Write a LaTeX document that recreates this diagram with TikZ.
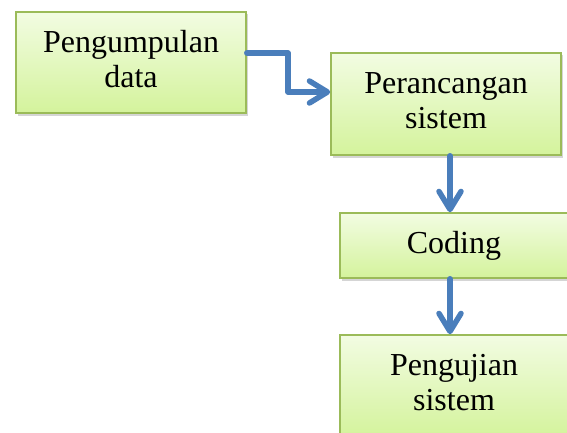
\documentclass[tikz,border=0pt]{standalone}
\usepackage{fontspec}
\setmainfont{Liberation Serif}
\usetikzlibrary{arrows.meta,shadows}
\definecolor{boxedge}{HTML}{9BBB59}
\definecolor{boxtop}{HTML}{F2FCE2}
\definecolor{boxbottom}{HTML}{D4F39C}
\definecolor{flowblue}{HTML}{4A7EBB}
\tikzset{
  stage/.style={draw=boxedge, line width=1.6pt, top color=boxtop, bottom color=boxbottom,
    minimum width=230pt, inner sep=0pt,
    drop shadow={shadow xshift=1.5pt, shadow yshift=-2.5pt, opacity=0.3, fill=black!55}},
  label/.style={font=\fontsize{32}{35}\selectfont, align=center, inner sep=0pt},
  flow/.style={draw=flowblue, line width=5.5pt, line cap=round, line join=round,
    -{Straight Barb[length=18pt, width=22pt, line cap=round, line join=round]}},
}
\begin{document}
\begin{tikzpicture}[x=1pt, y=1pt]
  \useasboundingbox (0,0) rectangle (567,432);
  % process stages
  \node[stage, minimum height=101pt] (collect) at (131,369.5) {};
  \node[stage, minimum height=102pt] (design)  at (446,328) {};
  \node[stage, minimum width=228pt, minimum height=65pt] (code) at (454,186.5) {};
  \node[stage, minimum width=228pt, minimum height=102pt] (test) at (454,46) {};
  % stage titles
  \node[label] (collectT) at ([yshift=3.5pt]collect.center) {Pengumpulan\\data};
  \node[label] (designT)  at ([yshift=3.5pt]design.center) {Perancangan\\sistem};
  \node[label] (codeT)    at (code.center) {Coding};
  \node[label] (testT)    at ([yshift=3.5pt]test.center) {Pengujian\\sistem};
  % connectors
  \coordinate (bend) at (288,0);
  \draw[flow] ([yshift=9.5pt]collect.east) -| ([yshift=12pt]design.west -| bend) -- ([yshift=12pt]design.west);
  \draw[flow] ([xshift=4pt]design.south) -- ([xshift=-4pt]code.north);
  \draw[flow] ([xshift=-4pt]code.south) -- ([xshift=-4pt]test.north);
\end{tikzpicture}
\end{document}
